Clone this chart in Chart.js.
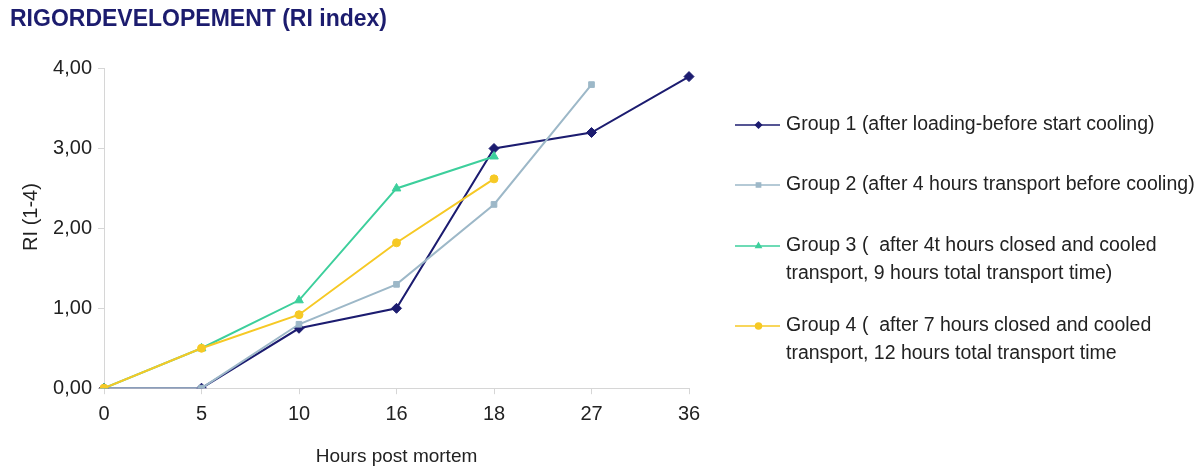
<!DOCTYPE html>
<html>
<head>
<meta charset="utf-8">
<script src="https://cdn.jsdelivr.net/npm/chart.js@4/dist/chart.umd.min.js"></script>
<style>
  html, body { margin: 0; padding: 0; background: #ffffff; }
  #wrap { position: relative; width: 1203px; height: 468px; }
</style>
</head>
<body>
<div id="wrap"><canvas id="rigor" width="1203" height="468"></canvas></div>
<script>
// Hours post mortem (category axis)
const hours = ['0', '5', '10', '16', '18', '27', '36'];

// RI index readings per group
const group1 = [0, 0, 0.75, 1.0, 3.0, 3.2, 3.9];
const group2 = [0, 0, 0.8, 1.3, 2.3, 3.8, null];
const group3 = [0, 0.5, 1.1, 2.5, 2.9, null, null];
const group4 = [0, 0.5, 0.92, 1.82, 2.62, null, null];

// Legend text, one array entry per line
const group1Label = ['Group 1 (after loading-before start cooling)'];
const group2Label = ['Group 2 (after 4 hours transport before cooling)'];
const group3Label = ['Group 3 (  after 4t hours closed and cooled', 'transport, 9 hours total transport time)'];
const group4Label = ['Group 4 (  after 7 hours closed and cooled', 'transport, 12 hours total transport time'];

const yTicks = [0, 1, 2, 3, 4];

const FONT = "'Liberation Sans', Arial, sans-serif";
const AXIS_GREY = '#d6d6d6';
const TEXT = '#222222';

const series = [
  { label: group1Label, data: group1, color: '#1c1c70', style: 'rectRot', radius: 5, order: 3 },
  { label: group2Label, data: group2, color: '#9db8c8', style: 'rect', radius: 4, order: 2 },
  { label: group3Label, data: group3, color: '#3dcf9c', style: 'triangle', radius: 5, order: 1 },
  { label: group4Label, data: group4, color: '#f6c925', style: 'circle', radius: 4, order: 0 }
];

// Legend rows on the right: y-centre of the first line of each entry
const legendRows = [125, 185, 246, 326];
const legendLineGap = 28;

const sideLegend = {
  id: 'sideLegend',
  afterDraw(chart) {
    const ctx = chart.ctx;
    ctx.save();
    chart.data.datasets.forEach((ds, i) => {
      const y = legendRows[i];
      ctx.strokeStyle = ds.borderColor;
      ctx.lineWidth = 1.5;
      ctx.beginPath();
      ctx.moveTo(735, y);
      ctx.lineTo(780, y);
      ctx.stroke();
      ctx.fillStyle = ds.borderColor;
      Chart.helpers.drawPoint(ctx, { pointStyle: ds.pointStyle, radius: 3, borderWidth: 1 }, 758.5, y);
      ctx.fillStyle = TEXT;
      ctx.font = '19.5px ' + FONT;
      ctx.textBaseline = 'middle';
      ctx.textAlign = 'left';
      ds.label.forEach((line, k) => ctx.fillText(line, 786, y + k * legendLineGap));
    });
    ctx.restore();
  }
};

// Rotated y-axis caption, set slightly above the axis middle
const yCaption = {
  id: 'yCaption',
  afterDraw(chart) {
    const ctx = chart.ctx;
    ctx.save();
    ctx.translate(31, 217);
    ctx.rotate(-Math.PI / 2);
    ctx.fillStyle = TEXT;
    ctx.font = '20px ' + FONT;
    ctx.textAlign = 'center';
    ctx.textBaseline = 'middle';
    ctx.fillText('RI (1-4)', 0, 0);
    ctx.restore();
  }
};

new Chart(document.getElementById('rigor'), {
  type: 'line',
  data: {
    labels: hours,
    datasets: series.map(s => ({
      label: s.label,
      data: s.data,
      borderColor: s.color,
      backgroundColor: s.color,
      pointBackgroundColor: s.color,
      pointBorderColor: s.color,
      pointStyle: s.style,
      pointRadius: s.radius,
      pointBorderWidth: 1,
      borderWidth: 2,
      tension: 0,
      fill: false,
      spanGaps: false,
      order: s.order
    }))
  },
  options: {
    responsive: false,
    animation: false,
    devicePixelRatio: 1,
    layout: { padding: { left: 10, right: 514, top: 0, bottom: 0 } },
    plugins: {
      legend: { display: false },
      tooltip: { enabled: false },
      title: {
        display: true,
        text: 'RIGORDEVELOPEMENT (RI index)',
        align: 'start',
        color: '#1c1c6e',
        font: { family: FONT, size: 23, weight: 'bold' },
        padding: { top: 6, bottom: 35 }
      }
    },
    scales: {
      x: {
        type: 'category',
        offset: false,
        grid: { drawOnChartArea: false, drawTicks: true, tickLength: 6, color: AXIS_GREY },
        border: { display: true, color: AXIS_GREY, width: 1 },
        ticks: { color: TEXT, font: { family: FONT, size: 20 }, padding: 8.5, maxRotation: 0 },
        title: {
          display: true,
          text: 'Hours post mortem',
          color: TEXT,
          font: { family: FONT, size: 19 },
          padding: { top: 10, bottom: 0 }
        }
      },
      y: {
        min: 0,
        max: 4,
        afterFit(scale) { scale.width = 94; },
        afterBuildTicks(scale) { scale.ticks = yTicks.map(v => ({ value: v })); },
        grid: { drawOnChartArea: false, drawTicks: true, tickLength: 6, color: AXIS_GREY },
        border: { display: true, color: AXIS_GREY, width: 1 },
        ticks: {
          color: TEXT,
          font: { family: FONT, size: 20 },
          padding: 6,
          callback: v => v.toFixed(2).replace('.', ',')
        },
        title: { display: false }
      }
    }
  },
  plugins: [sideLegend, yCaption]
});
</script>
</body>
</html>
